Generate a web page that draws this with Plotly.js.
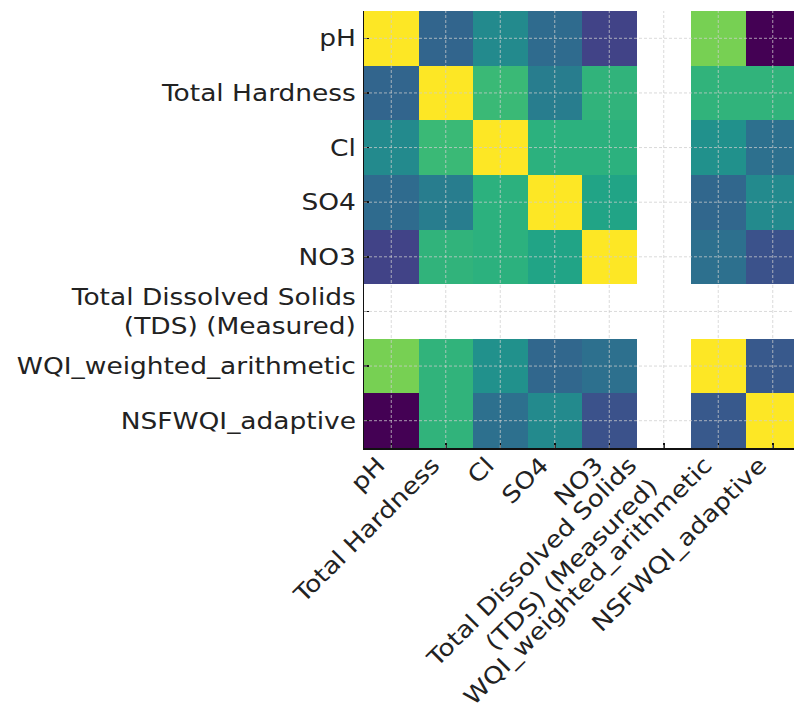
<!DOCTYPE html>
<html>
<head>
<meta charset="utf-8">
<script src="https://cdn.plot.ly/plotly-3.0.1.min.js"></script>
<style>
html,body{margin:0;padding:0;overflow:hidden;background:#fff;}
#chart{width:806px;height:713px;}
</style>
</head>
<body>
<div id="chart"></div>
<script>
// Category labels (same order on both axes)
const labels = [
  "pH",
  "Total Hardness",
  "Cl",
  "SO4",
  "NO3",
  "Total Dissolved Solids<br>(TDS) (Measured)",
  "WQI_weighted_arithmetic",
  "NSFWQI_adaptive"
];

// Correlation rows (null = NaN, drawn blank)
const rowPH     = [ 1.00, -0.05,  0.18, -0.01, -0.24, null,  0.68, -0.55];
const rowTH     = [-0.05,  1.00,  0.50,  0.10,  0.46, null,  0.46,  0.46];
const rowCl     = [ 0.18,  0.50,  1.00,  0.44,  0.44, null,  0.23,  0.02];
const rowSO4    = [-0.01,  0.10,  0.44,  1.00,  0.35, null, -0.04,  0.18];
const rowNO3    = [-0.24,  0.46,  0.44,  0.35,  1.00, null,  0.02, -0.16];
const rowTDS    = [ null,  null,  null,  null,  null, null,  null,  null];
const rowWQI    = [ 0.68,  0.46,  0.23, -0.04,  0.02, null,  1.00, -0.12];
const rowNSF    = [-0.55,  0.46,  0.02,  0.18, -0.16, null, -0.12,  1.00];

const z = [rowPH, rowTH, rowCl, rowSO4, rowNO3, rowTDS, rowWQI, rowNSF];

const idx = labels.map((_, i) => i);

// dashed grid drawn above the cells, at category centres
const gridStyle = {color: "rgba(205,205,205,0.75)", width: 1, dash: "3px,2px"};
const shapes = [];
idx.forEach(i => {
  shapes.push({type: "line", layer: "above", xref: "x", yref: "paper", x0: i, x1: i, y0: 0, y1: 1, line: gridStyle});
  shapes.push({type: "line", layer: "above", xref: "paper", yref: "y", x0: 0, x1: 1, y0: i, y1: i, line: gridStyle});
});

const trace = {
  type: "heatmap",
  x: idx,
  y: idx,
  z: z,
  colorscale: "Viridis",
  showscale: false,
  hoverongaps: false,
  xgap: 0, ygap: 0
};

const font = {family: "DejaVu Sans, sans-serif", size: 23, color: "#222"};

const axisCommon = {
  type: "linear",
  tickmode: "array",
  tickvals: idx,
  ticktext: labels,
  ticks: "inside",
  ticklen: 5,
  tickwidth: 1.5,
  tickcolor: "#111",
  showline: true,
  linecolor: "#111",
  linewidth: 1.5,
  mirror: false,
  showgrid: false,
  zeroline: false,
  automargin: false,
  tickfont: font
};

const layout = {
  width: 806,
  height: 713,
  margin: {l: 364, r: 6, t: 11, b: 265, pad: 0},
  paper_bgcolor: "#fff",
  plot_bgcolor: "#fff",
  font: font,
  showlegend: false,
  xaxis: Object.assign({}, axisCommon, {range: [-0.5, 7.5], tickangle: -45, ticklabelstandoff: 6}),
  yaxis: Object.assign({}, axisCommon, {range: [7.5, -0.5], ticklabelstandoff: 2}),
  shapes: shapes
};

const STRETCH = 1.15;
Plotly.newPlot("chart", [trace], layout, {displayModeBar: false, staticPlot: true}).then(gd => {
  // widen tick label glyphs along their reading direction, around their anchor
  gd.querySelectorAll(".xtick text, .ytick text").forEach(t => {
    const x = parseFloat(t.getAttribute("x")) || 0;
    const y = parseFloat(t.getAttribute("y")) || 0;
    const tr = t.getAttribute("transform") || "";
    const isX = !!t.closest(".xtick");
    const multi = t.querySelectorAll("tspan.line").length > 1;
    let pre = "";
    if (isX) pre = multi ? "translate(-34,-13) " : "translate(-13,-13) ";
    t.setAttribute("transform", pre + tr + ` translate(${x},${y}) scale(${STRETCH},1) translate(${-x},${-y})`);
  });
});
</script>
</body>
</html>
